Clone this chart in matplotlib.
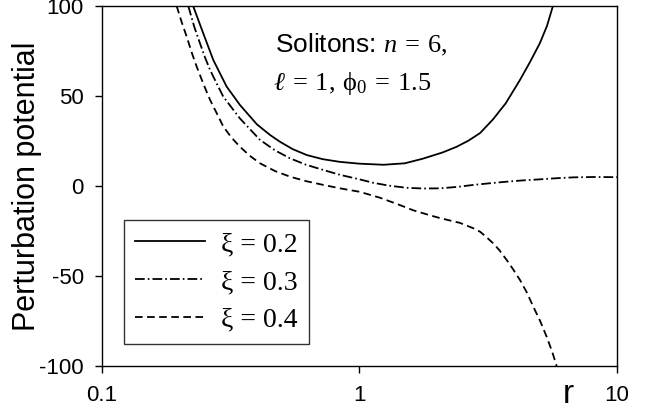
import matplotlib
matplotlib.use('Agg')
import matplotlib.pyplot as plt
from matplotlib.ticker import FixedLocator, FixedFormatter, NullLocator

plt.rcParams['font.family'] = ['Liberation Sans', 'DejaVu Sans']
plt.rcParams['mathtext.fontset'] = 'custom'
plt.rcParams['mathtext.rm'] = 'Liberation Serif'
plt.rcParams['mathtext.it'] = 'Liberation Serif:italic'
plt.rcParams['mathtext.sf'] = 'Liberation Sans'
plt.rcParams['lines.scale_dashes'] = False

# данные
r_02 = [0.226, 0.2474, 0.2706, 0.305, 0.3435, 0.40, 0.45, 0.491, 0.55, 0.624,
        0.72, 0.84, 1.0, 1.24, 1.5, 1.765, 2.1, 2.385, 2.65, 2.94, 3.3, 3.7,
        4.2, 4.6, 5.02, 5.35, 5.64]
v_02 = [100, 84.8, 70, 55.2, 45, 34.2, 28.3, 24.6, 20.5, 17.2,
        14.9, 13.4, 12.4, 11.8, 12.6, 15.2, 18.6, 21.8, 25.2, 29.4, 37, 46,
        58.9, 69, 79.4, 89, 100]

r_03 = [0.2164, 0.2282, 0.2402, 0.2512, 0.263, 0.28, 0.296, 0.3435, 0.411, 0.47,
        0.537, 0.62, 0.724, 0.84, 1.0, 1.13, 1.3, 1.525, 1.77, 2.05, 2.4, 2.77,
        3.2, 3.73, 4.3, 5.02, 5.8, 6.77, 8.2, 10]
v_03 = [100, 88.5, 79.3, 71.5, 64.4, 56.5, 49.6, 37.5, 25.6, 19.8,
        15.4, 11.8, 8.9, 6.2, 3.7, 1.8, 0.2, -1.0, -1.4, -1.3, -0.5, 0.6,
        1.5, 2.4, 3.1, 3.7, 4.3, 4.8, 5.0, 4.9]

r_04 = [0.195, 0.204, 0.2133, 0.2233, 0.2333, 0.248, 0.263, 0.28, 0.296, 0.318,
        0.3435, 0.375, 0.411, 0.47, 0.537, 0.62, 0.724, 0.84, 1.0, 1.2, 1.4,
        1.618, 1.85, 2.05, 2.456, 2.77, 2.94, 3.1, 3.31, 3.5, 3.73, 3.96, 4.2,
        4.46, 4.73, 5.03, 5.33, 5.6, 5.83]
v_04 = [100, 91, 83, 74, 66.3, 56.5, 47.8, 40, 33, 27,
        21.8, 16.8, 12.6, 8.3, 5.2, 2.7, 0.6, -1.3, -3.2, -6.5, -10,
        -13.5, -16, -17.8, -20.5, -23.5, -25.4, -28.2, -31.9, -35.8, -41.1, -46.5, -52.2,
        -59, -67, -75, -83.7, -92, -100]

labels = ['\u03be = 0.2', '\u03be = 0.3', '\u03be = 0.4']
x_ticks = [0.1, 1, 10]
x_tick_labels = ['0.1', '1', '10']
y_ticks = [-100, -50, 0, 50, 100]

fig = plt.figure(figsize=(6.62, 4.13), dpi=100)
ax = fig.add_axes([0.154, 0.1138, 0.778, 0.8717])

ax.plot(r_02, v_02, color='black', lw=1.3, linestyle='-', label=labels[0])
ax.plot(r_03, v_03, color='black', lw=1.3, linestyle=(0, (7, 2.2, 1.2, 2.2)), label=labels[1])
ax.plot(r_04, v_04, color='black', lw=1.3, linestyle=(0, (5.5, 3.2)), label=labels[2])

ax.set_xscale('log')
ax.set_xlim(0.1, 10)
ax.set_ylim(-100, 100)
ax.xaxis.set_major_locator(FixedLocator(x_ticks))
ax.xaxis.set_major_formatter(FixedFormatter(x_tick_labels))
ax.xaxis.set_minor_locator(NullLocator())
ax.set_yticks(y_ticks)
ax.set_yticklabels([str(v) for v in y_ticks])
ax.tick_params(axis='both', direction='out', length=5, width=1, labelsize=16, colors='black')
ax.tick_params(axis='y', pad=8)
ax.tick_params(axis='x', pad=9)
for s in ax.spines.values():
    s.set_linewidth(1.0)
    s.set_color('black')

ax.set_ylabel('Perturbation potential', fontsize=22)
ax.yaxis.set_label_coords(-0.146, 0.5)
ax.yaxis.label.set_va('center')

ax.set_xlabel('r', fontsize=24)
ax.xaxis.set_label_coords(0.905, -0.103)
ax.xaxis.label.set_va('baseline')

ax.text(0.336, 0.872, r'Solitons: $n\:=\:6,$', transform=ax.transAxes,
        fontsize=19, ha='left', va='baseline')
ax.text(0.333, 0.767, r'$\ell\:=\:1,\:\mathrm{\phi}_0\:=\:1.5$', transform=ax.transAxes,
        fontsize=19, ha='left', va='baseline')

leg = ax.legend(loc='lower left', bbox_to_anchor=(0.043, 0.061), borderaxespad=0,
                prop={'family': 'Liberation Serif', 'size': 20}, frameon=True,
                fancybox=False, handlelength=2.5, handletextpad=0.6,
                labelspacing=0.45, borderpad=0.4)
leg.get_frame().set_edgecolor('black')
leg.get_frame().set_linewidth(1.0)

fig.savefig('out.png', dpi=100)
